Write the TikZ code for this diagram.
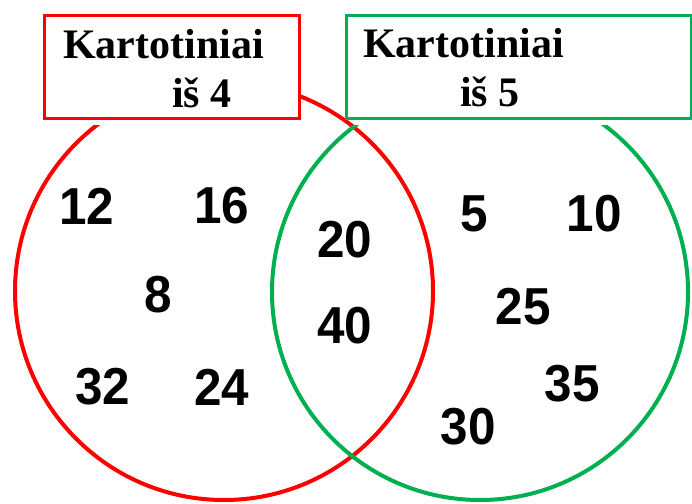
\documentclass[tikz,border=0pt]{standalone}
\usepackage{fontspec}
\setmainfont{Liberation Serif}
\newfontfamily\numfont{Liberation Sans}
\definecolor{vred}{RGB}{255,0,0}
\definecolor{vgreen}{RGB}{0,176,80}
\begin{document}
\begin{tikzpicture}[x=1pt,y=-1pt,
  num/.style={font=\numfont\bfseries\fontsize{52}{52}\selectfont, inner sep=0pt, anchor=center, xscale=0.95, transform shape},
  lbl/.style={font=\bfseries\fontsize{42}{42}\selectfont, inner sep=0pt, anchor=base west},
  setbox/.style={line width=3pt, fill=white}]
\useasboundingbox (0,0) rectangle (692,503);
\fill[white] (0,0) rectangle (692,503);
% circles
\draw[vred, line width=4pt] (224,291) circle[radius=209pt];
\draw[vgreen, line width=4pt] (480,292) circle[radius=208pt];
% white margins below the label boxes
\fill[white] (43,14) rectangle (298,125);
\fill[white] (354,14) rectangle (690,125);
% label boxes
\node[setbox, draw=vred, minimum width=255pt, minimum height=103pt, anchor=north west, inner sep=0pt] (boxA) at (43,14) {};
\node[setbox, draw=vgreen, minimum width=345pt, minimum height=103pt, anchor=north west, inner sep=0pt] (boxB) at (345,14) {};
\node[lbl] (la1) at (63,59) {Kartotiniai};
\node[lbl] (la2) at (172,107) {iš 4};
\node[lbl] (lb1) at (363,57) {Kartotiniai};
\node[lbl] (lb2) at (460,106) {iš 5};
% numbers
\node[num] (n12) at (87,206) {12};
\node[num] (n16) at (222,206) {16};
\node[num] (n8) at (158,295) {8};
\node[num] (n32) at (103,387) {32};
\node[num] (n24) at (222,387) {24};
\node[num] (n20) at (345,240) {20};
\node[num] (n40) at (345,326) {40};
\node[num] (n5) at (474,214) {5};
\node[num] (n10) at (594,214) {10};
\node[num] (n25) at (523,307) {25};
\node[num] (n35) at (572,384) {35};
\node[num] (n30) at (468,427) {30};
\end{tikzpicture}
\end{document}
